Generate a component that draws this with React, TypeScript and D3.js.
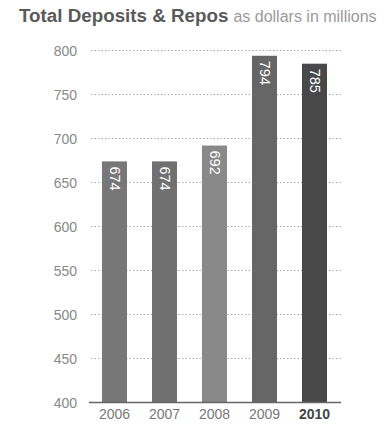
import React from "react";
import * as d3 from "d3";

const years = ["2006", "2007", "2008", "2009", "2010"];
const values = [674, 674, 692, 794, 785];
const barColors = ["#777777", "#707070", "#898989", "#666666", "#484848"];
const yTicks = [400, 450, 500, 550, 600, 650, 700, 750, 800];

export default function App() {
  const W = 389, H = 425;
  const x = d3.scaleBand<string>().domain(years).range([89.5, 339.5]).paddingInner(0.5).paddingOuter(0.25);
  const y = d3.scaleLinear().domain([400, 800]).range([402.5, 50.5]);
  const font = "'Liberation Sans', Arial, sans-serif";
  return (
    <svg width={W} height={H} style={{ position: "absolute", left: 0, top: 0 }} fontFamily={font}>
      <rect width={W} height={H} fill="#fff" />
      <text x={19} y={22} fontSize={18.8} fontWeight="bold" fill="#5a5a5a">
        Total Deposits &amp; Repos
        <tspan fontSize={16} fontWeight="normal" fill="#9a9a9a" dx={5}>as dollars in millions</tspan>
      </text>
      {yTicks.slice(1).map((t) => (
        <line key={t} x1={91} x2={341} y1={y(t)} y2={y(t)} stroke="#aaa" strokeWidth={1} strokeDasharray="1.5,2" />
      ))}
      {yTicks.map((t) => (
        <text key={t} x={77} y={y(t) + 5} textAnchor="end" fontSize={14} fill="#888">{t}</text>
      ))}
      {years.map((yr, i) => (
        <rect key={yr} x={x(yr)} y={y(values[i])} width={x.bandwidth()} height={y(400) - y(values[i])} fill={barColors[i]} />
      ))}
      <line x1={89} x2={341} y1={y(400)} y2={y(400)} stroke="#666" strokeWidth={1.5} />
      {years.map((yr, i) => {
        const cx = (x(yr) as number) + x.bandwidth() / 2;
        const ty = y(values[i]) + 5;
        return (
          <text key={yr} transform={`translate(${cx - 5},${ty}) rotate(90)`} fontSize={14.5} fill="#fff">{values[i]}</text>
        );
      })}
      {years.map((yr, i) => (
        <text key={yr} x={(x(yr) as number) + x.bandwidth() / 2} y={419} textAnchor="middle" fontSize={14}
          fontWeight={i === years.length - 1 ? "bold" : "normal"} fill={i === years.length - 1 ? "#444" : "#777"}>{yr}</text>
      ))}
    </svg>
  );
}
